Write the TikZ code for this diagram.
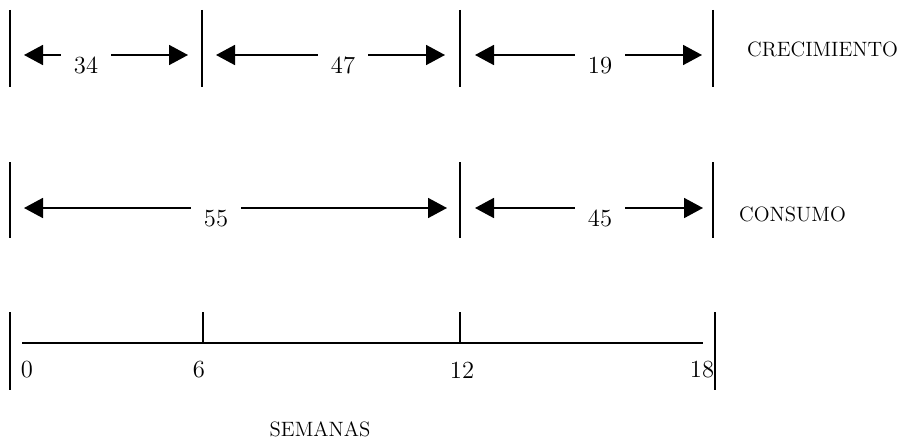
\documentclass[tikz,border=0pt]{standalone}
\usepackage{fontspec}
\usepackage{tikz}
\usetikzlibrary{arrows.meta}

\tikzset{
	bar/.style={line width=1.1pt},
	dim/.style={line width=1pt, -{Triangle[length=3.8mm,width=4mm]}},
	dimlabel/.style={anchor=north, minimum width=10mm, inner sep=1pt, font=\fontsize{14}{16}\selectfont},
	ticklabel/.style={inner sep=0pt, font=\fontsize{14}{16}\selectfont},
	rowlabel/.style={anchor=west, font=\fontsize{11.8}{14}\selectfont},
}

\begin{document}
\begin{tikzpicture}[x=0.2mm, y=-0.2mm]

	\useasboundingbox (0,0) rectangle (905,438);

	% crecimiento
	\foreach \x in {10,202,460,713}
		\draw[bar] (\x,10) -- (\x,87);
	\foreach \n/\c/\l/\r in {34/86/24/188, 47/343/216/445, 19/600/475/702}{
		\node[dimlabel] (c\n) at (\c,55) {\n};
		\coordinate (tipl\n) at (\l,55);
		\coordinate (tipr\n) at (\r,55);
		\draw[dim] (c\n.north west) -- (tipl\n);
		\draw[dim] (c\n.north east) -- (tipr\n);
	}
	\node[rowlabel] (crec) at (741,49) {CRECIMIENTO};

	% consumo
	\foreach \x in {10,460,713}
		\draw[bar] (\x,162) -- (\x,238);
	\foreach \n/\c/\l/\r in {55/216/24/447, 45/600/475/703}{
		\node[dimlabel] (c\n) at (\c,208) {\n};
		\coordinate (tipl\n) at (\l,208);
		\coordinate (tipr\n) at (\r,208);
		\draw[dim] (c\n.north west) -- (tipl\n);
		\draw[dim] (c\n.north east) -- (tipr\n);
	}
	\node[rowlabel] (cons) at (733,214) {CONSUMO};

	% semanas
	\draw[bar] (10,312) -- (10,390);
	\draw[bar] (715,312) -- (715,390);
	\draw[bar] (203,312) -- (203,343);
	\draw[bar] (460,312) -- (460,343);
	\draw[line width=1.6pt] (22,343) -- (703,343);
	\foreach \t/\x in {0/27, 6/199, 12/462, 18/702}
		\node[ticklabel] (t\t) at (\x,370) {\t};
	\node[ticklabel, font=\fontsize{11.8}{14}\selectfont] (sem) at (320,429) {SEMANAS};

\end{tikzpicture}
\end{document}
